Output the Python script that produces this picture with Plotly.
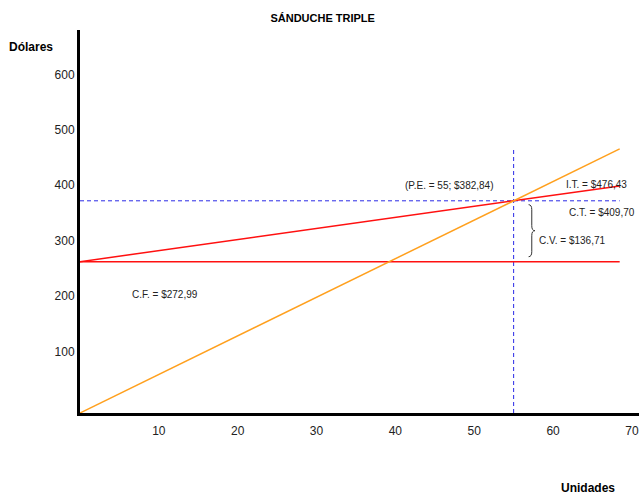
import plotly.graph_objects as go

# Rectas del análisis de punto de equilibrio (unidades vs. dólares)
unidades = [0, 68.45]
ingreso_total = [0, 476.43]
costo_total = [272.99, 409.70]
costo_fijo = [272.99, 272.99]

# Punto de equilibrio
pe_unidades = 55
pe_dolares = 382.84
costo_variable = 136.71

x_ticks = [10, 20, 30, 40, 50, 60, 70]
y_ticks = [100, 200, 300, 400, 500, 600]

FONT = "Liberation Sans, Arial, sans-serif"
BLUE = "#2a2ae6"
RED = "#ff1010"
ORANGE = "#ffa01e"

fig = go.Figure()

# Líneas guía del punto de equilibrio
fig.add_trace(go.Scatter(x=[unidades[0], unidades[-1]], y=[pe_dolares, pe_dolares],
                         mode="lines", line=dict(color=BLUE, width=1, dash="4px,3px"),
                         hoverinfo="skip"))
fig.add_trace(go.Scatter(x=[pe_unidades, pe_unidades], y=[0, ingreso_total[-1]],
                         mode="lines", line=dict(color=BLUE, width=1, dash="4px,3px"),
                         hoverinfo="skip"))

# Costo fijo, costo total e ingreso total
fig.add_trace(go.Scatter(x=unidades, y=costo_fijo, mode="lines",
                         line=dict(color=RED, width=1.5), name="C.F."))
fig.add_trace(go.Scatter(x=unidades, y=costo_total, mode="lines",
                         line=dict(color=RED, width=1.5), name="C.T."))
fig.add_trace(go.Scatter(x=unidades, y=ingreso_total, mode="lines",
                         line=dict(color=ORANGE, width=1.5), name="I.T."))

# Llave que marca el costo variable
top = pe_dolares - 7
bot = costo_fijo[0] + 9
mid = (top + bot) / 2
x0, x1, x2 = 56.9, 57.3, 57.7
d = 9
brace = (f"M {x0},{top} Q {x1},{top} {x1},{top - d} L {x1},{mid + d} "
         f"Q {x1},{mid} {x2},{mid} Q {x1},{mid} {x1},{mid - d} "
         f"L {x1},{bot + d} Q {x1},{bot} {x0},{bot}")
fig.add_shape(type="path", path=brace, xref="x", yref="y",
              line=dict(color="#333333", width=1))


def etiqueta(texto, x, y, anchor="left"):
    fig.add_annotation(text=texto, x=x, y=y, xref="x", yref="y", showarrow=False,
                       xanchor=anchor, yanchor="middle",
                       font=dict(family=FONT, size=10, color="#222222"))


etiqueta("(P.E. = 55; $382,84)", 46.9, 411, anchor="center")
etiqueta("I.T. = $476,43", 61.4, 413)
etiqueta("C.T. = $409,70", 61.8, 362)
etiqueta("C.V. = $136,71", 58.0, 312)
etiqueta("C.F. = $272,99", 6.3, 213)

fig.update_layout(
    width=639, height=499,
    margin=dict(l=80, r=0, t=30, b=86),
    paper_bgcolor="white", plot_bgcolor="white",
    showlegend=False,
    title=dict(text="<b>SÁNDUCHE TRIPLE</b>", x=0.505, xanchor="center",
               y=0.964, yanchor="middle", font=dict(family=FONT, size=11, color="black")),
    font=dict(family=FONT, size=12, color="#222222"),
)
fig.update_xaxes(range=[0, 70.9], tickvals=x_ticks, ticks="", showgrid=False,
                 zeroline=False, showline=True, linecolor="black", linewidth=3,
                 ticklabelstandoff=5, ticklabeloverflow="allow",
                 tickfont=dict(size=12))
fig.update_yaxes(range=[0, 691], tickvals=y_ticks, ticks="", showgrid=False,
                 zeroline=False, showline=True, linecolor="black", linewidth=3,
                 ticklabelshift=-6, ticklabelstandoff=0, tickfont=dict(size=12))

fig.add_annotation(text="<b>Dólares</b>", xref="paper", yref="paper",
                   x=(31 - 80) / 559, y=(413 - 47) / 383,
                   xanchor="center", yanchor="middle", showarrow=False,
                   font=dict(family=FONT, size=12, color="black"))
fig.add_annotation(text="<b>Unidades</b>", xref="paper", yref="paper",
                   x=(588 - 80) / 559, y=-(488 - 413) / 383,
                   xanchor="center", yanchor="middle", showarrow=False,
                   font=dict(family=FONT, size=12, color="black"))

fig.write_html("out.html")
